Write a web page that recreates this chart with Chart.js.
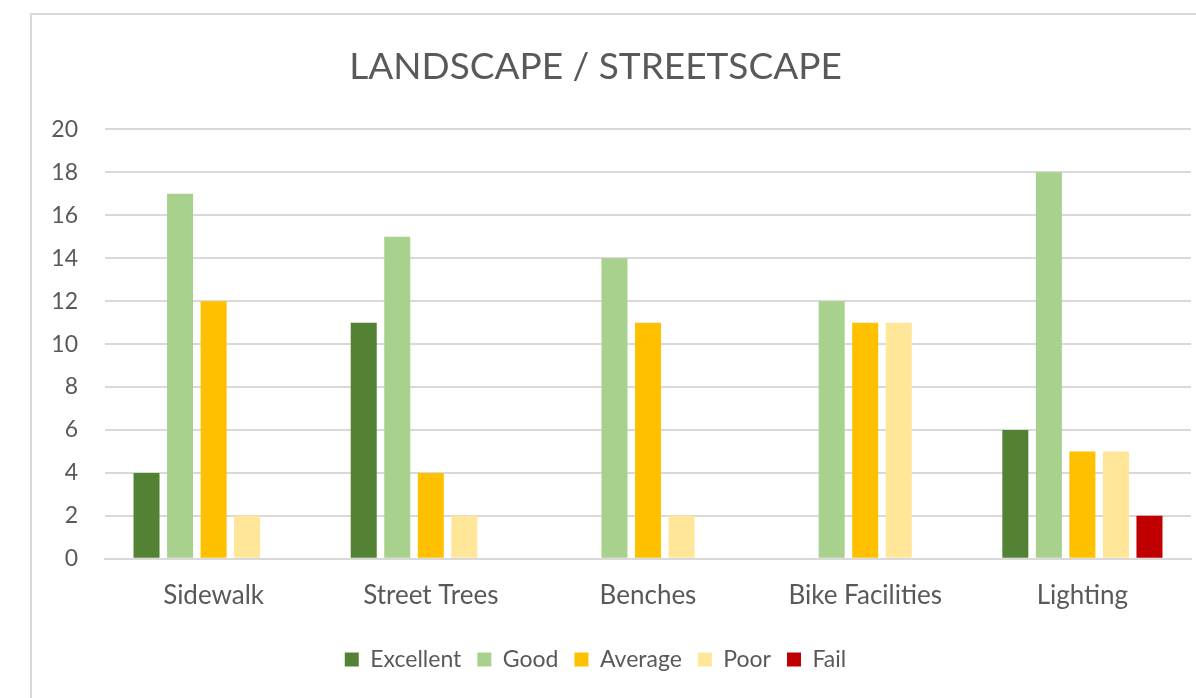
<!DOCTYPE html>
<html>
<head>
<meta charset="utf-8">
<script src="https://cdn.jsdelivr.net/npm/chart.js@4/dist/chart.umd.min.js"></script>
<style>
  html, body { margin: 0; padding: 0; background: #fff; overflow: hidden; }
  #wrap { position: relative; width: 1196px; height: 698px; }
  #frame {
    position: absolute; left: 30px; top: 13px; width: 1200px; height: 700px;
    border-left: 2px solid #d9d9d9; border-top: 2px solid #d9d9d9;
  }
  #chart { position: absolute; left: 0; top: 0; }
</style>
</head>
<body>
<div id="wrap">
  <div id="frame"></div>
  <canvas id="chart" width="1196" height="698"></canvas>
</div>
<script>
// chart data
const categories = ["Sidewalk", "Street Trees", "Benches", "Bike Facilities", "Lighting"];
const excellent = [4, 11, 0, 0, 6];
const good = [17, 15, 14, 12, 18];
const average = [12, 4, 11, 11, 5];
const poor = [2, 2, 2, 11, 5];
const fail = [0, 0, 0, 0, 2];
const yTicks = [0, 2, 4, 6, 8, 10, 12, 14, 16, 18, 20];

const textColor = "#595959";
const gridColor = "#d9d9d9";
const fontFamily = "Lato, 'Open Sans', sans-serif";

function series(label, data, color) {
  return {
    label: label,
    data: data,
    backgroundColor: color,
    borderWidth: 0,
    categoryPercentage: 0.772,
    barPercentage: 0.776,
  };
}

new Chart(document.getElementById("chart"), {
  type: "bar",
  data: {
    labels: categories,
    datasets: [
      series("Excellent", excellent, "#548235"),
      series("Good", good, "#A9D18E"),
      series("Average", average, "#FFC000"),
      series("Poor", poor, "#FFE699"),
      series("Fail", fail, "#C00000"),
    ],
  },
  options: {
    responsive: false,
    animation: false,
    layout: { padding: { left: 0, right: 5, top: 0, bottom: 17 } },
    plugins: {
      title: {
        display: true,
        text: "LANDSCAPE / STREETSCAPE",
        color: textColor,
        font: { family: fontFamily, size: 37, weight: "normal" },
        padding: { top: 45, bottom: 40 },
      },
      legend: {
        position: "bottom",
        labels: {
          color: textColor,
          font: { family: fontFamily, size: 23 },
          boxWidth: 14,
          boxHeight: 14,
          padding: 16,
        },
      },
      tooltip: { enabled: false },
    },
    scales: {
      x: {
        grid: { display: false, drawTicks: false },
        border: { color: gridColor, width: 2 },
        ticks: {
          color: textColor,
          font: { family: fontFamily, size: 26 },
          padding: 21,
        },
      },
      y: {
        min: 0,
        max: 20,
        afterFit: (scale) => { scale.width = 105; },
        afterBuildTicks: (scale) => { scale.ticks = yTicks.map((v) => ({ value: v })); },
        grid: { color: gridColor, lineWidth: 2, drawTicks: false },
        border: { display: false },
        ticks: {
          color: textColor,
          font: { family: fontFamily, size: 23 },
          padding: 27,
        },
      },
    },
  },
});
</script>
</body>
</html>
